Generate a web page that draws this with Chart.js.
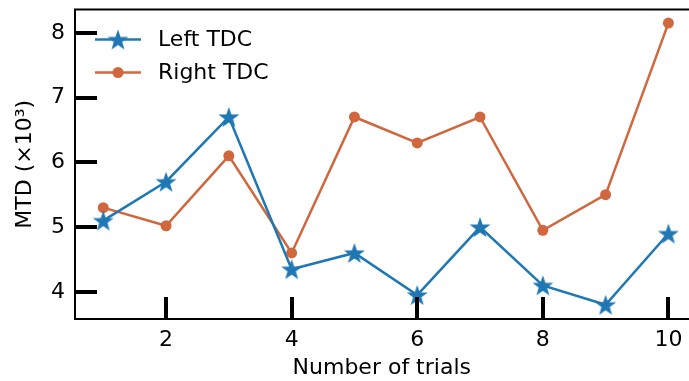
<!DOCTYPE html>
<html>
<head>
<meta charset="utf-8">
<script src="https://cdn.jsdelivr.net/npm/chart.js@4/dist/chart.umd.min.js"></script>
<style>
  html, body { margin: 0; padding: 0; background: #fff; overflow: hidden; }
  #wrap { width: 702px; height: 385px; margin-top: -4px; }
</style>
</head>
<body>
<div id="wrap"><canvas id="chart"></canvas></div>
<script>
const trials = [1, 2, 3, 4, 5, 6, 7, 8, 9, 10];
const leftTDC = [5.1, 5.7, 6.7, 4.35, 4.6, 3.95, 5.0, 4.1, 3.8, 4.9];
const rightTDC = [5.3, 5.02, 6.1, 4.6, 6.7, 6.3, 6.7, 4.95, 5.5, 8.15];
const xTicks = [2, 4, 6, 8, 10];
const yTicks = [4, 5, 6, 7, 8];

const blue = '#1f77b4';
const orange = '#d0673e';
const font = "'DejaVu Sans', sans-serif";

function makeStar(size, color) {
  const c = document.createElement('canvas');
  c.width = size; c.height = size;
  const g = c.getContext('2d');
  const cx = size / 2, cy = size / 2 + 1, R = size / 2, r = R * 0.4;
  g.beginPath();
  for (let i = 0; i < 10; i++) {
    const rad = i % 2 === 0 ? R : r;
    const a = -Math.PI / 2 + i * Math.PI / 5;
    g.lineTo(cx + rad * Math.cos(a), cy + rad * Math.sin(a));
  }
  g.closePath();
  g.fillStyle = color;
  g.fill();
  return c;
}
const star = makeStar(22, blue);

// inward ticks, top spine and legend
const decor = {
  id: 'decor',
  afterDraw(chart) {
    const ctx = chart.ctx;
    const area = chart.chartArea;
    const xs = chart.scales.x, ys = chart.scales.y;
    ctx.save();
    ctx.strokeStyle = '#000';
    ctx.lineWidth = 4;
    for (const v of yTicks) {
      const y = Math.round(ys.getPixelForValue(v));
      ctx.beginPath(); ctx.moveTo(area.left, y); ctx.lineTo(area.left + 22, y); ctx.stroke();
    }
    for (const v of xTicks) {
      const x = Math.round(xs.getPixelForValue(v));
      ctx.beginPath(); ctx.moveTo(x, area.bottom); ctx.lineTo(x, area.bottom - 22); ctx.stroke();
    }
    ctx.lineWidth = 2;
    ctx.beginPath(); ctx.moveTo(area.left - 1, area.top); ctx.lineTo(chart.width, area.top); ctx.stroke();

    // legend
    const items = [
      { label: 'Left TDC', color: blue, mark: 'star', y: area.top + 30 },
      { label: 'Right TDC', color: orange, mark: 'dot', y: area.top + 63 }
    ];
    ctx.font = '22px ' + font;
    ctx.textBaseline = 'middle';
    for (const it of items) {
      ctx.strokeStyle = it.color;
      ctx.lineWidth = 2.5;
      ctx.beginPath(); ctx.moveTo(95, it.y); ctx.lineTo(141, it.y); ctx.stroke();
      if (it.mark === 'star') {
        ctx.drawImage(star, 118 - 11, it.y - 11);
      } else {
        ctx.fillStyle = it.color;
        ctx.beginPath(); ctx.arc(118, it.y, 5.5, 0, Math.PI * 2); ctx.fill();
      }
      ctx.fillStyle = '#000';
      ctx.fillText(it.label, 158, it.y + 1);
    }
    ctx.restore();
  }
};

new Chart(document.getElementById('chart'), {
  type: 'line',
  data: {
    labels: trials,
    datasets: [
      {
        label: 'Left TDC',
        data: trials.map((t, i) => ({ x: t, y: leftTDC[i] })),
        borderColor: blue,
        backgroundColor: blue,
        borderWidth: 2.5,
        pointStyle: star,
        pointRadius: 11,
        tension: 0
      },
      {
        label: 'Right TDC',
        data: trials.map((t, i) => ({ x: t, y: rightTDC[i] })),
        borderColor: orange,
        backgroundColor: orange,
        borderWidth: 2.5,
        pointStyle: 'circle',
        pointRadius: 5.5,
        pointBorderWidth: 0,
        tension: 0
      }
    ]
  },
  options: {
    responsive: true,
    maintainAspectRatio: false,
    animation: false,
    layout: { padding: { top: 2, right: 0, left: 0, bottom: 0 } },
    plugins: { legend: { display: false }, tooltip: { enabled: false } },
    scales: {
      x: {
        type: 'linear',
        min: 0.55,
        max: 10.32,
        afterBuildTicks: s => { s.ticks = xTicks.map(v => ({ value: v })); },
        afterFit: s => { s.height = 62; },
        grid: { display: false, drawTicks: false },
        border: { display: true, color: '#000', width: 2 },
        ticks: { color: '#000', font: { family: font, size: 22 }, padding: 8, maxRotation: 0 },
        title: { display: true, text: 'Number of trials', color: '#000', font: { family: font, size: 22 }, padding: { top: 9, bottom: 0 } }
      },
      y: {
        min: 3.58,
        max: 8.36,
        afterBuildTicks: s => { s.ticks = yTicks.map(v => ({ value: v })); },
        afterFit: s => { s.width = 75; s.paddingTop = 0; s.paddingBottom = 0; },
        grid: { display: false, drawTicks: false },
        border: { display: true, color: '#000', width: 2 },
        ticks: { color: '#000', font: { family: font, size: 22 }, padding: 10 },
        title: { display: true, text: 'MTD (×10³)', color: '#000', font: { family: font, size: 22 }, padding: { top: 12, bottom: 2 } }
      }
    }
  },
  plugins: [decor]
});
</script>
</body>
</html>
